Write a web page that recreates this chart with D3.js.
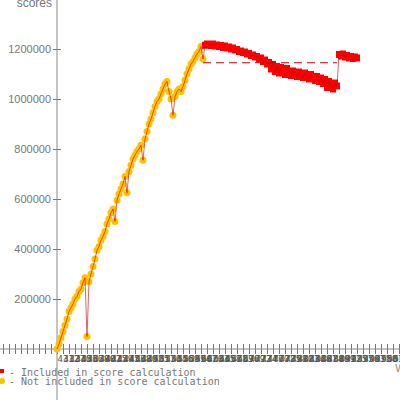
<!DOCTYPE html>
<html>
<head>
<meta charset="utf-8">
<script src="https://cdn.jsdelivr.net/npm/d3@7"></script>
<style>
  body { margin: 0; background: #fff; }
  svg { display: block; }
</style>
</head>
<body>
<script>
// scores not included in the score calculation (early builds)
var notIncluded = [0, 20000, 45000, 70000, 95000, 120000, 150000, 165000, 180000, 200000,
  210000, 230000, 240000, 265000, 285000, 50000, 270000, 300000, 330000, 360000,
  395000, 410000, 435000, 450000, 470000, 500000, 520000, 545000, 560000, 510000,
  595000, 620000, 640000, 660000, 690000, 625000, 710000, 735000, 760000, 775000,
  790000, 800000, 815000, 755000, 840000, 870000, 900000, 920000, 945000, 970000,
  990000, 1000000, 1020000, 1040000, 1060000, 1070000, 1030000, 1000000, 935000, 1010000,
  1030000, 1040000, 1030000, 1050000, 1075000, 1100000, 1120000, 1140000, 1150000, 1165000,
  1180000, 1190000, 1210000, 1160000];

// scores included in the score calculation
var included = [1215000, 1220000, 1218000, 1214000, 1220000, 1212000, 1216000, 1210000, 1214000, 1206000,
  1212000, 1204000, 1208000, 1200000, 1204000, 1196000, 1198000, 1190000, 1192000, 1186000,
  1188000, 1180000, 1182000, 1174000, 1176000, 1168000, 1170000, 1160000, 1164000, 1150000,
  1156000, 1140000, 1146000, 1120000, 1138000, 1110000, 1130000, 1104000, 1126000, 1116000,
  1098000, 1122000, 1106000, 1094000, 1112000, 1100000, 1090000, 1108000, 1096000, 1086000,
  1104000, 1092000, 1080000, 1098000, 1084000, 1074000, 1090000, 1070000, 1084000, 1062000,
  1078000, 1046000, 1070000, 1058000, 1040000, 1064000, 1052000, 1178000, 1172000, 1180000,
  1168000, 1174000, 1164000, 1170000, 1162000, 1168000, 1164000];

// reference level (dashed), from build index to build index
var refFrom = 73, refTo = 140, refValue = 1145000;

var yTicks = [200000, 400000, 600000, 800000, 1000000, 1200000];

var xLabels = ["4312","4327","4340","4351","4366","4378","4390","4402","4415","4429",
  "4441","4453","4468","4480","4492","4505","4517","4530","4544","4556",
  "4569","4581","4594","4607","4620","4633","4645","4658","4671","4683",
  "4696","4709","4722","4734","4747","4760","4772","4785","4798","4810",
  "4823","4836","4848","4861","4874","4886","4899","4912","4925","4937",
  "4950","4963","4975","4988","5001","5013","5026","5039"];

var width = 400, height = 400;

var svg = d3.select("body").append("svg")
    .attr("width", width)
    .attr("height", height);

var x = d3.scaleLinear().domain([-28.5, 171.5]).range([0, 400]);
var y = d3.scaleLinear().domain([0, 1200000]).range([349, 49]);

var points = [];
notIncluded.forEach(function(v, i) { points.push({i: i, v: v, inc: false}); });
included.forEach(function(v, i) { points.push({i: notIncluded.length + i, v: v, inc: true}); });

// x axis (labels overlap, as in the original)
var xTickVals = d3.range(-27, 172, 3);
var xAxis = svg.append("g")
    .attr("transform", "translate(0,349)")
    .call(d3.axisBottom(x).tickValues(xTickVals).tickSize(5).tickFormat(function(d) {
      return d >= 0 ? (xLabels[d / 3] || "") : "";
    }));
xAxis.select(".domain").remove();
xAxis.selectAll(".tick line").attr("y1", -5).attr("y2", 5).attr("stroke", "#777");
xAxis.selectAll(".tick text")
    .attr("text-anchor", "start")
    .attr("y", 7)
    .attr("dy", "0.71em")
    .attr("fill", "#555")
    .style("font-family", "DejaVu Sans Mono, monospace")
    .style("font-size", "9px");
svg.append("line")
    .attr("x1", 0).attr("x2", 400).attr("y1", 349).attr("y2", 349)
    .attr("stroke", "#888");

// y axis
var yAxis = svg.append("g")
    .attr("transform", "translate(57,0)")
    .call(d3.axisLeft(y).tickValues(yTicks).tickSize(4).tickPadding(2).tickFormat(d3.format("d")));
yAxis.select(".domain").remove();
yAxis.selectAll(".tick line").attr("x1", -4).attr("x2", 4).attr("stroke", "#777");
yAxis.selectAll(".tick text")
    .attr("fill", "#777")
    .style("font-family", "Liberation Sans, Arial, sans-serif")
    .style("font-size", "11px");
svg.append("line")
    .attr("x1", 57).attr("x2", 57).attr("y1", 0).attr("y2", 400)
    .attr("stroke", "#888");

svg.append("text")
    .attr("x", 52).attr("y", 7)
    .attr("text-anchor", "end")
    .attr("fill", "#777")
    .style("font-family", "Liberation Sans, Arial, sans-serif")
    .style("font-size", "12px")
    .text("scores");

svg.append("text")
    .attr("x", 395).attr("y", 372)
    .attr("fill", "#888")
    .style("font-family", "DejaVu Sans Mono, monospace")
    .style("font-size", "10px")
    .text("Version");

// markers
svg.selectAll(".dot")
    .data(points.filter(function(d) { return !d.inc; }))
    .enter().append("circle")
      .attr("class", "dot")
      .attr("cx", function(d) { return x(d.i); })
      .attr("cy", function(d) { return y(d.v); })
      .attr("r", 3.5)
      .attr("fill", "#ffc000");

svg.selectAll(".sq")
    .data(points.filter(function(d) { return d.inc; }))
    .enter().append("rect")
      .attr("class", "sq")
      .attr("x", function(d) { return x(d.i) - 3; })
      .attr("y", function(d) { return y(d.v) - 3.5; })
      .attr("width", 6)
      .attr("height", 7)
      .attr("fill", "#ff0000");

// line through all scores
var line = d3.line()
    .x(function(d) { return x(d.i); })
    .y(function(d) { return y(d.v); });
svg.append("path")
    .datum(points)
    .attr("d", line)
    .attr("fill", "none")
    .attr("stroke", "#cc0000")
    .attr("stroke-opacity", 0.6)
    .attr("stroke-width", 1);

// reference level
svg.append("line")
    .attr("x1", x(refFrom)).attr("x2", x(refTo))
    .attr("y1", y(refValue)).attr("y2", y(refValue))
    .attr("stroke", "#cc0000")
    .attr("stroke-dasharray", "8,5");

// legend
var legend = [{label: "- Included in score calculation", color: "#ff0000", sq: true},
              {label: "- Not included in score calculation", color: "#ffc000", sq: false}];
legend.forEach(function(l, k) {
  var ly = 371 + k * 9;
  if (l.sq) {
    svg.append("rect").attr("x", 0).attr("y", ly - 2).attr("width", 4).attr("height", 4).attr("fill", l.color);
  } else {
    svg.append("circle").attr("cx", 2).attr("cy", ly + 1).attr("r", 3).attr("fill", l.color);
  }
  svg.append("text")
    .attr("x", 9).attr("y", ly + 5)
    .attr("fill", "#777")
    .style("font-family", "DejaVu Sans Mono, monospace")
    .style("font-size", "10px")
    .text(l.label);
});
</script>
</body>
</html>
